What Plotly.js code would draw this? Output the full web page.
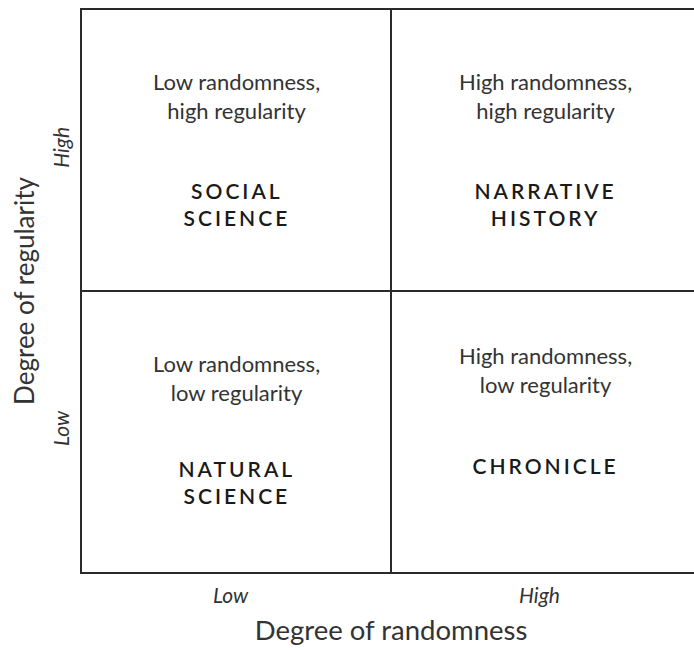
<!DOCTYPE html>
<html><head><meta charset="utf-8">
<script src="https://cdn.plot.ly/plotly-3.0.1.min.js"></script>
<style>
html,body{margin:0;padding:0;overflow:hidden;background:#fff;}
#chart{width:700px;height:650px;}
</style>
</head><body><div id="chart"></div>
<script>
// Data
const xLevels = ['Low', 'High'];          // degree of randomness
const yLevels = ['Low', 'High'];          // degree of regularity
const cellRandomness = ['Low', 'High', 'Low', 'High'];
const cellRegularity = ['High', 'High', 'Low', 'Low'];
const cellDescriptions = [
  'Low randomness,<br>high regularity',
  'High randomness,<br>high regularity',
  'Low randomness,<br>low regularity',
  'High randomness,<br>low regularity'
];
const cellNames = ['SOCIAL<br>SCIENCE', 'NARRATIVE<br>HISTORY', 'NATURAL<br>SCIENCE', 'CHRONICLE'];

const FONT = 'Lato, "Open Sans", sans-serif';
const ink = '#333333';
const idx = v => xLevels.indexOf(v) + 0.5;
const idy = v => yLevels.indexOf(v) + 0.5;

const descOffset = [0.195, 0.195, 0.19, 0.22];
const nameOffset = [-0.19, -0.19, -0.18, -0.12];

const annotations = [];
cellDescriptions.forEach((t, i) => {
  annotations.push({
    x: idx(cellRandomness[i]), y: idy(cellRegularity[i]) + descOffset[i],
    xref: 'x', yref: 'y', text: t, showarrow: false,
    font: {family: FONT, size: 22, color: ink}, align: 'center'
  });
  annotations.push({
    x: idx(cellRandomness[i]), y: idy(cellRegularity[i]) + nameOffset[i],
    xref: 'x', yref: 'y', text: cellNames[i], showarrow: false,
    font: {family: FONT, size: 21, color: '#1a1a1a', weight: 600}, align: 'center'
  });
});

const layout = {
  width: 700, height: 650,
  margin: {l: 82, r: 0, t: 10, b: 78},
  paper_bgcolor: '#fff', plot_bgcolor: '#fff',
  showlegend: false,
  xaxis: {
    range: [0, 2], tickvals: xLevels.map(idx), ticktext: xLevels,
    showgrid: false, zeroline: false, ticks: '', showline: true, mirror: true,
    linecolor: '#2a2a2a', linewidth: 2, ticklabelstandoff: 4, ticklabelshift: -6,
    tickfont: {family: FONT, size: 21, color: ink, style: 'italic'},
    title: {text: 'Degree of randomness', font: {family: FONT, size: 27.5, color: ink}, standoff: 15},
    fixedrange: true
  },
  yaxis: {
    range: [0, 2], tickvals: yLevels.map(idy), ticktext: yLevels, tickangle: -90,
    showgrid: false, zeroline: false, ticks: '', showline: true, mirror: true,
    linecolor: '#2a2a2a', linewidth: 2, ticklabelstandoff: 3,
    tickfont: {family: FONT, size: 21, color: ink, style: 'italic'},
    title: {text: 'Degree of regularity', font: {family: FONT, size: 26, color: ink}, standoff: 5},
    fixedrange: true
  },
  shapes: [
    {type: 'line', xref: 'x', yref: 'y', x0: 1, x1: 1, y0: 0, y1: 2, line: {color: '#2a2a2a', width: 2}},
    {type: 'line', xref: 'x', yref: 'y', x0: 0, x1: 2, y0: 1, y1: 1, line: {color: '#2a2a2a', width: 2}}
  ],
  annotations: annotations
};

Plotly.newPlot('chart', [{x: [], y: [], type: 'scatter', mode: 'markers', hoverinfo: 'skip'}], layout, {displayModeBar: false, staticPlot: true}).then(() => {
  document.querySelectorAll('.annotation-text').forEach((el, i) => {
    if (i % 2 === 1) el.style.letterSpacing = '3px';
  });
});
</script>
</body></html>
